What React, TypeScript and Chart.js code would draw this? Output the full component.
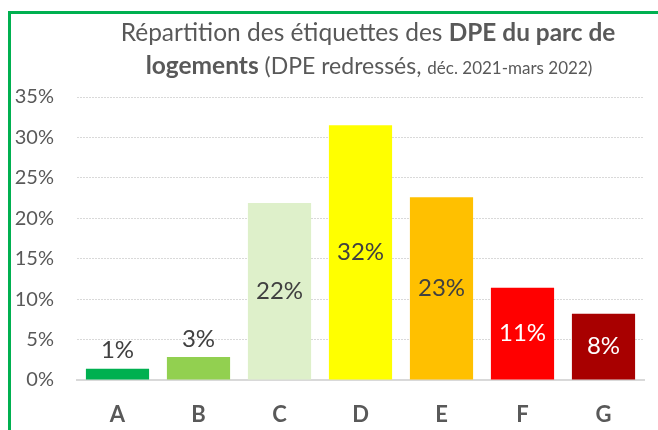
import React, { useEffect, useRef } from "react";
import { Chart, registerables } from "chart.js";

Chart.register(...registerables);

const categories = ["A", "B", "C", "D", "E", "F", "G"];
const shares = [1.4, 2.85, 21.9, 31.5, 22.6, 11.4, 8.2];
const barColors = ["#00B050", "#92D050", "#DEF0CA", "#FFFF00", "#FFC000", "#FF0000", "#A80000"];
const labelColors = ["#404040", "#404040", "#404040", "#404040", "#404040", "#FFFFFF", "#FFFFFF"];
const yTickStep = 5;
const yMax = 35;

const FONT = "Lato";
const GREY = "#595959";

type Seg = { t: string; bold?: boolean; size: number };
const titleLine1: Seg[] = [
  { t: "Répartition des étiquettes des ", size: 24.5 },
  { t: "DPE du parc de", bold: true, size: 24.4 },
];
const titleLine2: Seg[] = [
  { t: "logements", bold: true, size: 24.5 },
  { t: " (DPE redressés, ", size: 23 },
  { t: "déc. 2021-mars 2022)", size: 17 },
];

const frameAndTitle = {
  id: "frameAndTitle",
  beforeDraw(chart: any) {
    const ctx = chart.ctx;
    ctx.save();
    ctx.fillStyle = "#FFFFFF";
    ctx.fillRect(0, 0, chart.width, chart.height);
    ctx.fillStyle = "#00B050";
    ctx.fillRect(8, 11, 3, chart.height);
    ctx.fillRect(8, 11, chart.width, 3);
    ctx.restore();
  },
  afterDraw(chart: any) {
    const ctx = chart.ctx;
    ctx.save();
    ctx.fillStyle = GREY;
    ctx.textBaseline = "alphabetic";
    ctx.textAlign = "left";
    const drawLine = (segs: Seg[], cx: number, baseY: number) => {
      const widths = segs.map((s) => {
        ctx.font = `${s.bold ? "bold " : ""}${s.size}px ${FONT}`;
        return ctx.measureText(s.t).width;
      });
      const total = widths.reduce((a, b) => a + b, 0);
      let x = cx - total / 2;
      segs.forEach((s, i) => {
        ctx.font = `${s.bold ? "bold " : ""}${s.size}px ${FONT}`;
        ctx.fillText(s.t, x, baseY);
        x += widths[i];
      });
    };
    drawLine(titleLine1, 368, 41);
    drawLine(titleLine2, 369, 74);
    ctx.restore();
  },
};

const barLabels = {
  id: "barLabels",
  afterDatasetsDraw(chart: any) {
    const ctx = chart.ctx;
    const meta = chart.getDatasetMeta(0);
    ctx.save();
    ctx.font = `24px ${FONT}`;
    ctx.textAlign = "center";
    ctx.textBaseline = "middle";
    meta.data.forEach((bar: any, i: number) => {
      const { x, y, base } = bar.getProps(["x", "y", "base"], true);
      const v = shares[i];
      const cy = v < 5 ? y - 18 : (y + base) / 2;
      ctx.fillStyle = labelColors[i];
      ctx.fillText(Math.round(v) + "%", x, cy);
    });
    ctx.restore();
  },
};

export default function App() {
  const ref = useRef<HTMLCanvasElement>(null);
  useEffect(() => {
    if (!ref.current) return;
    const chart = new Chart(ref.current, {
      type: "bar",
      data: {
        labels: categories,
        datasets: [
          {
            data: shares,
            backgroundColor: barColors,
            borderWidth: 0,
            categoryPercentage: 1,
            barPercentage: 0.78,
          },
        ],
      },
      options: {
        animation: false,
        responsive: false,
        devicePixelRatio: 1,
        layout: { padding: { top: 97, right: 14, left: 0, bottom: 0 } },
        plugins: { legend: { display: false }, tooltip: { enabled: false }, title: { display: false } },
        scales: {
          x: {
            grid: { display: false, drawTicks: false },
            border: { display: true, color: "#D9D9D9", width: 2 },
            ticks: {
              color: GREY,
              font: { family: FONT, size: 22, weight: "bold" },
              padding: 22,
            },
            afterFit(scale: any) {
              scale.height = 50;
            },
          },
          y: {
            min: 0,
            max: yMax,
            grid: {
              color: "#D9D9D9",
              lineWidth: 1,
              drawTicks: false,
            },
            border: { display: false, dash: [2, 1] },
            ticks: {
              stepSize: yTickStep,
              color: GREY,
              font: { family: FONT, size: 20 },
              padding: 23,
              callback: (v: any) => v + "%",
            },
            afterFit(scale: any) {
              scale.width = 77;
            },
          },
        },
      },
      plugins: [frameAndTitle, barLabels],
    } as any);
    return () => chart.destroy();
  }, []);
  return (
    <div style={{ position: "absolute", left: 0, top: 0, width: 658, height: 430 }}>
      <canvas ref={ref} width={658} height={430} />
    </div>
  );
}
